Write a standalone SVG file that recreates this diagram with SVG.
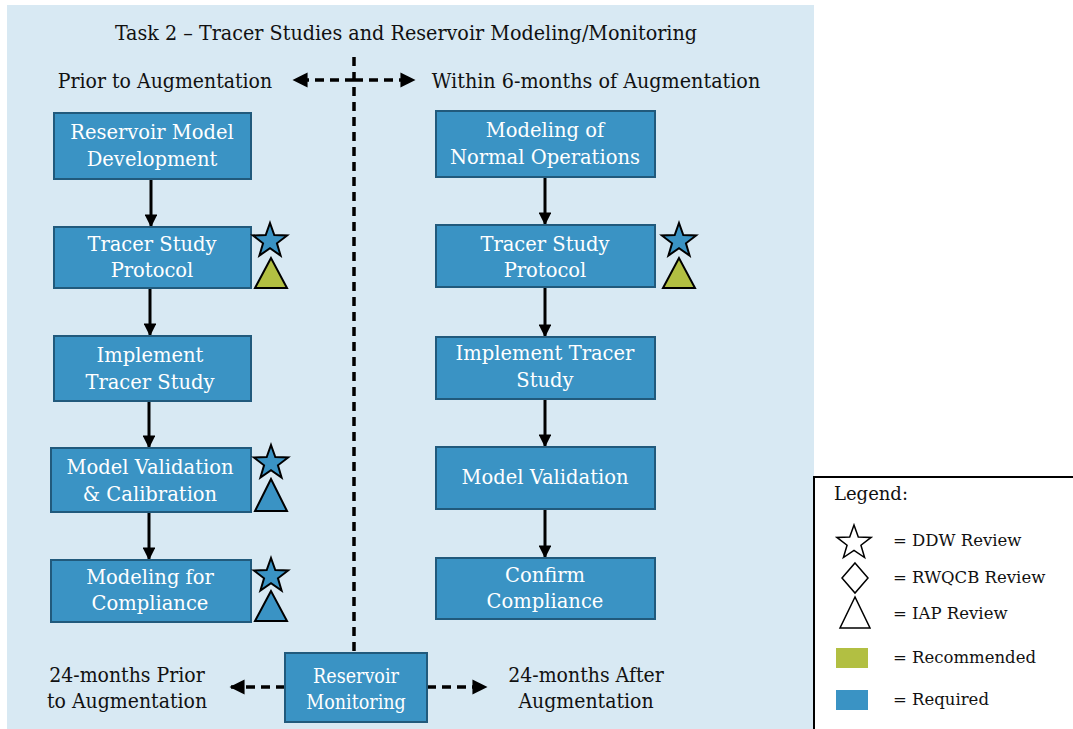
<svg xmlns="http://www.w3.org/2000/svg" width="1073" height="729" viewBox="0 0 1073 729">
<style>
.box{fill:#3a93c4;stroke:#215a7c;stroke-width:2}
.bt{font-family:"DejaVu Serif","Liberation Serif",serif;font-size:19.5px;fill:#ffffff;text-anchor:middle}
.ct{font-family:"DejaVu Serif Condensed","DejaVu Serif",serif;font-stretch:condensed;fill:#111111;text-anchor:middle}
.lt{font-family:"DejaVu Serif","Liberation Serif",serif;font-size:16.5px;fill:#111111}
.flow{stroke:#000;stroke-width:3;fill:none}
.dash{stroke:#000;stroke-width:3.5;fill:none;stroke-dasharray:9 6}
.req{fill:#3a93c4;stroke:#000;stroke-width:2}
.rec{fill:#b2bf42;stroke:#000;stroke-width:2}
.out{fill:#fff;stroke:#000;stroke-width:1.5}
</style>
<defs>
<marker id="ah" viewBox="0 0 10 10" refX="9" refY="5" markerWidth="4.3" markerHeight="4.3" orient="auto" markerUnits="strokeWidth">
<path d="M0,0 L10,5 L0,10 z" fill="#000"/>
</marker>
<path id="star" d="M0,-18 L4.29,-5.91 L17.12,-5.56 L6.94,2.26 L10.58,14.56 L0,7.3 L-10.58,14.56 L-6.94,2.26 L-17.12,-5.56 L-4.29,-5.91 Z"/>
</defs>
<rect x="7" y="5" width="807" height="724" fill="#d8e9f3"/>
<rect x="814" y="477" width="262" height="260" fill="#ffffff" stroke="#000" stroke-width="2"/>

<text class="ct" x="406" y="40" font-size="21.3">Task 2 – Tracer Studies and Reservoir Modeling/Monitoring</text>
<text class="ct" x="165" y="88" font-size="21">Prior to Augmentation</text>
<text class="ct" x="596" y="88" font-size="21.3">Within 6-months of Augmentation</text>
<text class="ct" x="127" y="682" font-size="21">24-months Prior</text>
<text class="ct" x="127" y="708" font-size="21">to Augmentation</text>
<text class="ct" x="586" y="682" font-size="21">24-months After</text>
<text class="ct" x="586" y="708" font-size="21">Augmentation</text>

<g id="connectors">
<line class="dash" x1="354" y1="57" x2="354" y2="653"/>
<line class="dash" x1="354" y1="80" x2="294" y2="80" marker-end="url(#ah)"/>
<line class="dash" x1="354" y1="80" x2="414" y2="80" marker-end="url(#ah)"/>
<line class="dash" x1="285" y1="687" x2="231" y2="687" marker-end="url(#ah)"/>
<line class="dash" x1="427" y1="687" x2="486" y2="687" marker-end="url(#ah)"/>
<line class="flow" x1="151" y1="180" x2="151" y2="226" marker-end="url(#ah)"/>
<line class="flow" x1="150" y1="289" x2="150" y2="335" marker-end="url(#ah)"/>
<line class="flow" x1="149" y1="401" x2="149" y2="447" marker-end="url(#ah)"/>
<line class="flow" x1="149" y1="512" x2="149" y2="559" marker-end="url(#ah)"/>
<line class="flow" x1="545" y1="177" x2="545" y2="224" marker-end="url(#ah)"/>
<line class="flow" x1="545" y1="287" x2="545" y2="336" marker-end="url(#ah)"/>
<line class="flow" x1="545" y1="399" x2="545" y2="446" marker-end="url(#ah)"/>
<line class="flow" x1="545" y1="509" x2="545" y2="557" marker-end="url(#ah)"/>
</g>

<g id="n-reservoir-model">
<rect class="box" x="54" y="113" width="197" height="66"/>
<text class="bt" x="152" y="139">Reservoir Model</text>
<text class="bt" x="152" y="166">Development</text>
</g>
<g id="n-tracer-protocol-l">
<rect class="box" x="54" y="227" width="197" height="61"/>
<text class="bt" x="152" y="251">Tracer Study</text>
<text class="bt" x="152" y="277">Protocol</text>
<use href="#star" class="req" transform="translate(270,241)"/>
<path class="rec" d="M271,258 L255,288 L287,288 Z"/>
</g>
<g id="n-implement-l">
<rect class="box" x="54" y="336" width="197" height="65"/>
<text class="bt" x="150" y="362">Implement</text>
<text class="bt" x="150" y="389">Tracer Study</text>
</g>
<g id="n-validation-l">
<rect class="box" x="51" y="448" width="200" height="64"/>
<text class="bt" x="150" y="474">Model Validation</text>
<text class="bt" x="150" y="501">&amp; Calibration</text>
<use href="#star" class="req" transform="translate(271,463)"/>
<path class="req" d="M271,479 L255,511 L287,511 Z"/>
</g>
<g id="n-compliance-l">
<rect class="box" x="51" y="560" width="200" height="62"/>
<text class="bt" x="150" y="584">Modeling for</text>
<text class="bt" x="150" y="610">Compliance</text>
<use href="#star" class="req" transform="translate(271,576)"/>
<path class="req" d="M271,591 L255,621 L287,621 Z"/>
</g>

<g id="n-normal-ops">
<rect class="box" x="436" y="111" width="219" height="66"/>
<text class="bt" x="545" y="137">Modeling of</text>
<text class="bt" x="545" y="164">Normal Operations</text>
</g>
<g id="n-tracer-protocol-r">
<rect class="box" x="436" y="225" width="219" height="62"/>
<text class="bt" x="545" y="251">Tracer Study</text>
<text class="bt" x="545" y="277">Protocol</text>
<use href="#star" class="req" transform="translate(679,241)"/>
<path class="rec" d="M679,258 L663,288 L695,288 Z"/>
</g>
<g id="n-implement-r">
<rect class="box" x="436" y="337" width="219" height="62"/>
<text class="bt" x="545" y="360">Implement Tracer</text>
<text class="bt" x="545" y="387">Study</text>
</g>
<g id="n-validation-r">
<rect class="box" x="436" y="447" width="219" height="62"/>
<text class="bt" x="545" y="484">Model Validation</text>
</g>
<g id="n-confirm-r">
<rect class="box" x="436" y="558" width="219" height="61"/>
<text class="bt" x="545" y="582">Confirm</text>
<text class="bt" x="545" y="608">Compliance</text>
</g>

<g id="n-reservoir-monitoring">
<rect class="box" x="285" y="653" width="142" height="69"/>
<text class="bt" x="356" y="683" style="font-family:'DejaVu Serif Condensed','DejaVu Serif',serif;font-stretch:condensed;font-size:19.5px">Reservoir</text>
<text class="bt" x="356" y="709" style="font-family:'DejaVu Serif Condensed','DejaVu Serif',serif;font-stretch:condensed;font-size:19.5px">Monitoring</text>
</g>

<g id="legend">
<text class="lt" x="834" y="500" style="font-size:18px">Legend:</text>
<use href="#star" class="out" transform="translate(854,543)"/>
<text class="lt" x="893" y="546">= DDW Review</text>
<path class="out" d="M855,563 L868,578 L855,593 L842,578 Z"/>
<text class="lt" x="893" y="583">= RWQCB Review</text>
<path class="out" d="M855,597 L840,628 L870,628 Z"/>
<text class="lt" x="893" y="619">= IAP Review</text>
<rect x="836" y="648" width="32" height="20" fill="#b2bf42"/>
<text class="lt" x="893" y="663">= Recommended</text>
<rect x="836" y="690" width="32" height="20" fill="#3a93c4"/>
<text class="lt" x="893" y="705">= Required</text>
</g>
</svg>
